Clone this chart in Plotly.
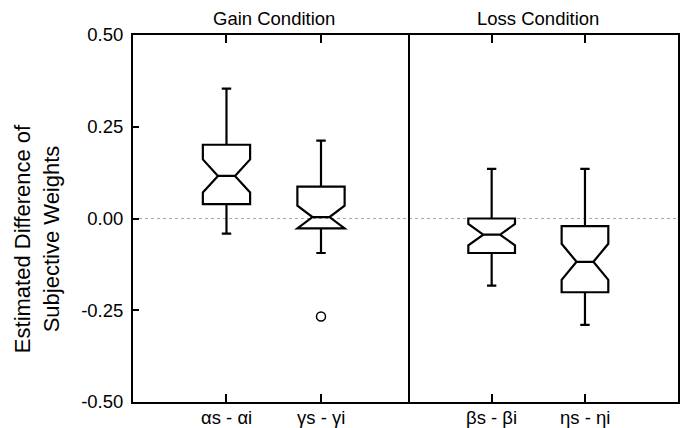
import plotly.graph_objects as go

# ---- data ----
gain_labels = ["αs - αi", "γs - γi"]
gain_upper = [0.354, 0.212]
gain_q3 = [0.201, 0.087]
gain_median = [0.116, 0.004]
gain_q1 = [0.039, -0.027]
gain_lower = [-0.041, -0.094]
gain_notch = [0.045, 0.031]

loss_labels = ["βs - βi", "ηs - ηi"]
loss_upper = [0.135, 0.135]
loss_q3 = [0.000, -0.021]
loss_median = [-0.044, -0.118]
loss_q1 = [-0.094, -0.201]
loss_lower = [-0.183, -0.290]
loss_notch = [0.029, 0.049]

outlier_labels = ["γs - γi"]
outlier_values = [-0.267]

panel_titles = ["Gain Condition", "Loss Condition"]
y_ticks = [-0.50, -0.25, 0.00, 0.25, 0.50]
y_ticktext = ["-0.50", "-0.25", "0.00", "0.25", "0.50"]

FONT = "Liberation Sans, Arial, Helvetica, sans-serif"

fig = go.Figure()

box_style = dict(
    line=dict(color="black", width=2.2),
    fillcolor="rgba(0,0,0,0)",
    notched=True,
    notchwidth=0.32,
    whiskerwidth=0.2,
    boxpoints=False,
    width=0.5,
    showlegend=False,
    hoverinfo="skip",
)

fig.add_trace(go.Box(
    x=gain_labels, q1=gain_q1, median=gain_median, q3=gain_q3,
    lowerfence=gain_lower, upperfence=gain_upper, notchspan=gain_notch,
    xaxis="x", yaxis="y", **box_style))

fig.add_trace(go.Box(
    x=loss_labels, q1=loss_q1, median=loss_median, q3=loss_q3,
    lowerfence=loss_lower, upperfence=loss_upper, notchspan=loss_notch,
    xaxis="x2", yaxis="y2", **box_style))

fig.add_trace(go.Scatter(
    x=outlier_labels, y=outlier_values, mode="markers",
    marker=dict(symbol="circle-open", size=9, color="black", line=dict(width=1.5)),
    xaxis="x", yaxis="y", showlegend=False, hoverinfo="skip"))

d = 0.504
xcommon = dict(
    type="category", showline=True, linecolor="black", linewidth=2,
    mirror="ticks", ticks="inside", ticklen=8, tickwidth=2, tickcolor="black",
    showgrid=False, zeroline=False, showticklabels=False, automargin=False,
)

annotations = [
    dict(text=panel_titles[0], xref="x", yref="paper", x=0.5, y=1.045,
         xanchor="center", yanchor="middle", showarrow=False,
         font=dict(family=FONT, size=18.5, color="black")),
    dict(text=panel_titles[1], xref="x2", yref="paper", x=0.5, y=1.045,
         xanchor="center", yanchor="middle", showarrow=False,
         font=dict(family=FONT, size=18.5, color="black")),
    dict(text="Estimated Difference of<br>Subjective Weights", textangle=-90,
         xref="paper", yref="paper", x=-0.176, y=0.444,
         xanchor="center", yanchor="middle", showarrow=False,
         font=dict(family=FONT, size=22, color="black")),
]
for xref, labels in (("x", gain_labels), ("x2", loss_labels)):
    for lab in labels:
        annotations.append(dict(
            text=lab, xref=xref, yref="paper", x=lab, y=-0.043,
            xanchor="center", yanchor="middle", showarrow=False,
            font=dict(family=FONT, size=18.5, color="black")))

fig.update_layout(
    width=686, height=428,
    margin=dict(l=133, r=8, t=35, b=26),
    paper_bgcolor="white", plot_bgcolor="white",
    font=dict(family=FONT, size=18, color="black"),
    xaxis=dict(domain=[0, d], range=[-0.989, 1.917], anchor="y", **xcommon),
    xaxis2=dict(domain=[d, 1], range=[-0.900, 1.997], anchor="y2", **xcommon),
    yaxis=dict(anchor="x", range=[-0.5, 0.5], tickvals=y_ticks, ticktext=y_ticktext,
               showline=True, linecolor="black", linewidth=2, mirror=True,
               showgrid=False, zeroline=False, automargin=False,
               ticks="inside", ticklen=6, tickwidth=2, tickcolor="black",
               ticklabelstandoff=4,
               tickfont=dict(family=FONT, size=18.5, color="black")),
    yaxis2=dict(anchor="x2", matches="y", side="right", showticklabels=False, ticks="",
                showline=True, linecolor="black", linewidth=2, mirror=False,
                showgrid=False, zeroline=False, automargin=False),
    shapes=[dict(type="line", xref="paper", yref="y", x0=0, x1=1, y0=0, y1=0,
                 line=dict(color="#a8a8a8", width=1, dash="dot"), layer="below")],
    annotations=annotations,
)

fig.write_html("out.html")
